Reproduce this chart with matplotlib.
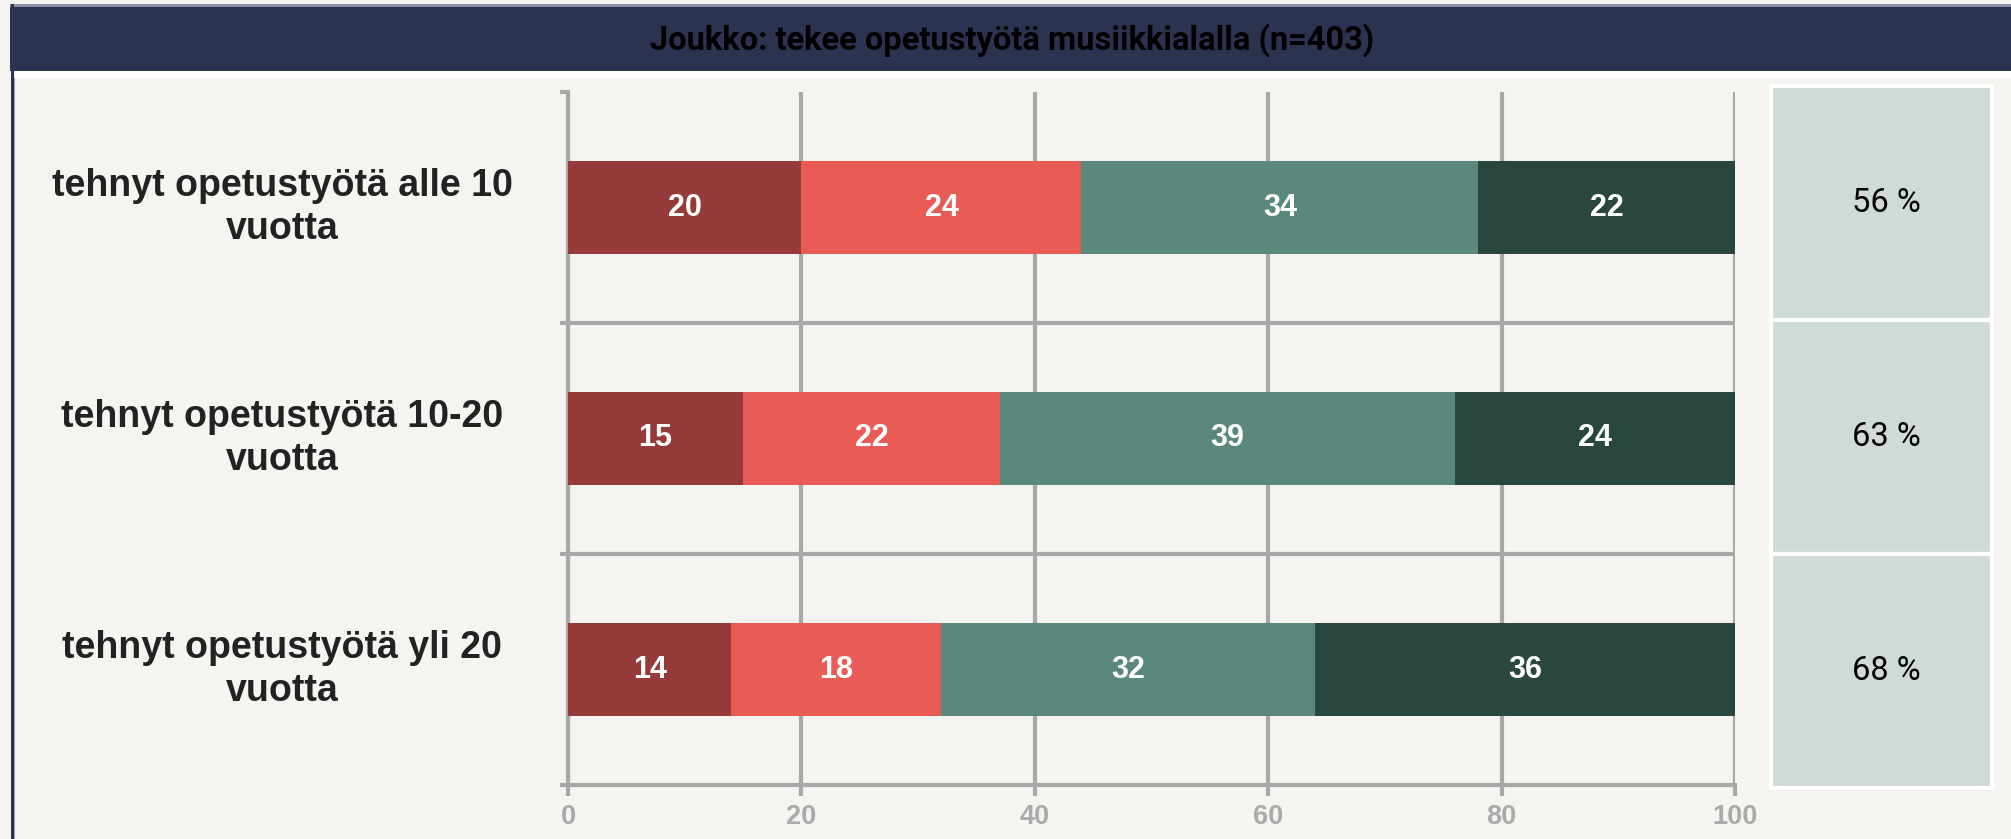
import matplotlib.pyplot as plt
from matplotlib.patches import Rectangle
from matplotlib.transforms import blended_transform_factory

# data
categories = ["tehnyt opetustyötä alle 10\nvuotta",
              "tehnyt opetustyötä 10-20\nvuotta",
              "tehnyt opetustyötä yli 20\nvuotta"]
s1 = [20, 15, 14]
s2 = [24, 22, 18]
s3 = [34, 39, 32]
s4 = [22, 24, 36]
share = [56, 63, 68]
xticks = [0, 20, 40, 60, 80, 100]
title = "Joukko: tekee opetustyötä musiikkialalla (n=403)"

colors = ['#963b39', '#e95b55', '#5a887c', '#29463f']
grey = '#a8a8a8'
bg = '#f5f4f0'

W, H = 2011, 839
fig = plt.figure(figsize=(W / 100, H / 100), dpi=100)
fig.patch.set_facecolor(bg)


def fx(px):
    return px / W


def fy(py):
    return 1 - py / H


def rect(x0, y0, x1, y1, c):
    fig.add_artist(Rectangle((fx(x0), fy(y1)), fx(x1) - fx(x0), fy(y0) - fy(y1),
                             transform=fig.transFigure, color=c, lw=0))


# frame + title bar
rect(10, 4, W, 7, '#8a90a8')
rect(10, 7, W, 71, '#2c3350')
rect(14, 71, W, 78, 'white')
rect(11, 4, 14, H, '#2c3350')
rect(14, 78, 15, H, '#9aa0b4')
fig.text(fx(1012), fy(40), title, ha='center', va='center', fontsize=23.5,
         fontweight='bold', family='Roboto', color='black')

# main bar chart
ax = fig.add_axes([fx(568), fy(785), fx(1735) - fx(568), fy(92) - fy(785)])
ax.set_facecolor('none')
y = list(range(len(categories)))
left = [0] * len(y)
for vals, c in zip([s1, s2, s3, s4], colors):
    bars = ax.barh(y, vals, left=left, height=0.4, color=c, zorder=3)
    ax.bar_label(bars, label_type='center', color='white', fontsize=22,
                 fontweight='bold', family='Liberation Sans')
    left = [l + v for l, v in zip(left, vals)]

ax.set_xlim(0, 100)
ax.set_ylim(len(y) - 0.5, -0.5)
ax.set_xticks(xticks)
ax.grid(axis='x', color=grey, lw=3, zorder=0)
ax.set_axisbelow(True)
for i in y[:-1]:
    ax.axhline(i + 0.5, color=grey, lw=3, zorder=1)
for s in ['top', 'right']:
    ax.spines[s].set_visible(False)
for s in ['left', 'bottom']:
    ax.spines[s].set_color(grey)
    ax.spines[s].set_linewidth(3)

ax.set_yticks(y)
ax.set_yticks([i - 0.5 for i in y] + [len(y) - 0.5], minor=True)
ax.tick_params(axis='y', which='major', length=0, labelleft=False)
ax.tick_params(axis='y', which='minor', length=6, width=3, color=grey)
ax.tick_params(axis='x', length=8, width=3, color=grey, labelcolor='#aaaaaa',
               labelsize=19.5, pad=6)
for lab in ax.get_xticklabels():
    lab.set_fontweight('bold')
    lab.set_family('Liberation Sans')

tr = blended_transform_factory(ax.transAxes, ax.transData)
for i, cat in enumerate(categories):
    ax.text(-0.245, i, cat, transform=tr, ha='center', va='center',
            multialignment='center', fontsize=27, fontweight='bold',
            family='Liberation Sans', color='#222222', linespacing=1.22)

# right side boxes with shares
ax2 = fig.add_axes([fx(1771), fy(788), fx(1992) - fx(1771), fy(86) - fy(788)])
ax2.set_xlim(0, 1)
ax2.set_ylim(len(y) - 0.5, -0.5)
ax2.barh(y, [1] * len(y), height=1, color='#d1dbd6', edgecolor='white',
         lw=3, clip_on=False)
for i, v in enumerate(share):
    ax2.text(0.52, i, f"{v} %", ha='center', va='center', fontsize=23.5,
             family='Roboto', color='black')
ax2.axis('off')

fig.savefig('out.png', dpi=100, facecolor=bg)
